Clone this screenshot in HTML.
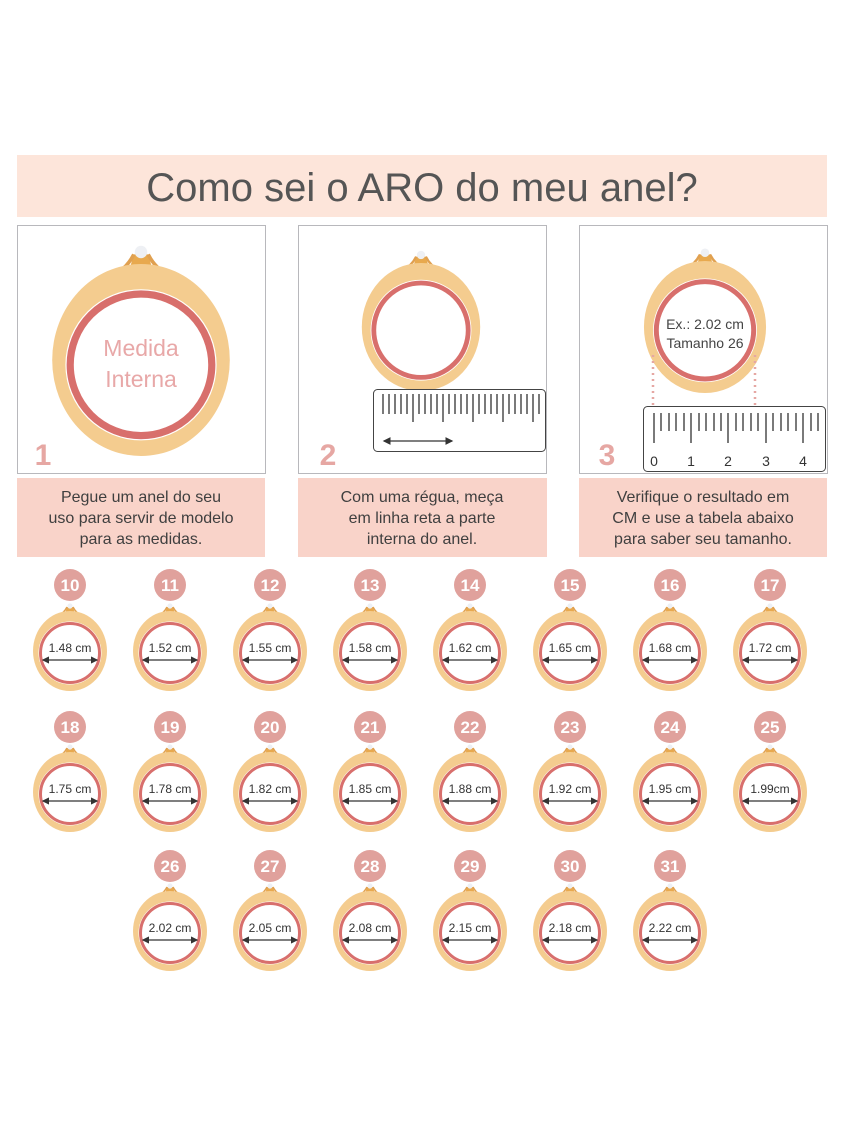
<!DOCTYPE html>
<html><head><meta charset="utf-8"><style>
body{margin:0;background:#fff;}
svg{display:block;font-family:"Liberation Sans",sans-serif;}
</style></head><body>
<svg width="850" height="1133" viewBox="0 0 850 1133" xmlns="http://www.w3.org/2000/svg">
<defs>
<g id="ring">
  <path d="M-5,-37 L-3,-44 L3,-44 L5,-37 Z" fill="#e8a94e"/>
  <path d="M-12,-35 Q-6,-38 -3,-44 M12,-35 Q6,-38 3,-44" stroke="#e0a050" stroke-width="1.5" fill="none"/>
  <circle cx="0" cy="-45" r="2.6" fill="#eef0f4"/>
  <ellipse cx="0" cy="0" rx="37" ry="40" fill="#f4cc8f"/>
  <circle cx="0" cy="2" r="31.5" fill="#fff"/>
  <circle cx="0" cy="2" r="29.5" fill="#fff" stroke="#d86f6c" stroke-width="3"/>
</g>
<marker id="ah" markerWidth="6" markerHeight="6" refX="5" refY="3" orient="auto-start-reverse"><path d="M0,0 L6,3 L0,6 Z" fill="#333"/></marker>
</defs>

<rect x="17" y="155" width="810" height="62" fill="#fde5da"/>
<text x="422" y="201" text-anchor="middle" font-size="40" fill="#555">Como sei o ARO do meu anel?</text>

<rect x="17.5" y="225.5" width="248" height="248" fill="#fff" stroke="#b8b8bc"/>
<rect x="298.5" y="225.5" width="248" height="248" fill="#fff" stroke="#b8b8bc"/>
<rect x="579.5" y="225.5" width="248" height="248" fill="#fff" stroke="#b8b8bc"/>

<!-- panel 1 -->
<g transform="translate(141,360) scale(2.4)"><use href="#ring"/></g>
<text x="141" y="356" text-anchor="middle" font-size="23" fill="#e8a8a8">Medida</text>
<text x="141" y="387" text-anchor="middle" font-size="23" fill="#e8a8a8">Interna</text>
<text x="43" y="465" text-anchor="middle" font-size="30" font-weight="bold" fill="#e6a7a3">1</text>

<!-- panel 2 -->
<g transform="translate(421,327) scale(1.6)"><use href="#ring"/></g>
<rect x="373.5" y="389.5" width="172" height="62" rx="4" fill="#fff" stroke="#444"/>
<g stroke="#333" stroke-width="1.3">
<path d="M383,394v20M389,394v20M395,394v20M401,394v20M407,394v20M413,394v28M419,394v20M425,394v20M431,394v20M437,394v20M443,394v28M449,394v20M455,394v20M461,394v20M467,394v20M473,394v28M479,394v20M485,394v20M491,394v20M497,394v20M503,394v28M509,394v20M515,394v20M521,394v20M527,394v20M533,394v28M539,394v20"/>
</g>
<line x1="384" y1="441" x2="452" y2="441" stroke="#333" stroke-width="1.3" marker-start="url(#ah)" marker-end="url(#ah)"/>
<text x="328" y="465" text-anchor="middle" font-size="30" font-weight="bold" fill="#e6a7a3">2</text>

<!-- panel 3 -->
<g transform="translate(705,327) scale(1.65)"><use href="#ring"/></g>
<text x="705" y="329" text-anchor="middle" font-size="14" fill="#444">Ex.: 2.02 cm</text>
<text x="705" y="348" text-anchor="middle" font-size="14" fill="#444">Tamanho 26</text>
<line x1="653" y1="355" x2="653" y2="405" stroke="#e6a7a3" stroke-width="2.5" stroke-dasharray="2,4"/>
<line x1="755" y1="355" x2="755" y2="405" stroke="#e6a7a3" stroke-width="2.5" stroke-dasharray="2,4"/>
<rect x="643.5" y="406.5" width="182" height="65" rx="4" fill="#fff" stroke="#444"/>
<g stroke="#333" stroke-width="1.3">
<path d="M654,413v30M661,413v18M669,413v18M676,413v18M684,413v18M691,413v30M699,413v18M706,413v18M714,413v18M721,413v18M728,413v30M736,413v18M743,413v18M751,413v18M758,413v18M766,413v30M773,413v18M781,413v18M788,413v18M796,413v18M803,413v30M811,413v18M818,413v18"/>
</g>
<g font-size="14" fill="#333" text-anchor="middle">
<text x="654" y="466">0</text><text x="691" y="466">1</text><text x="728" y="466">2</text><text x="766" y="466">3</text><text x="803" y="466">4</text>
</g>
<text x="607" y="465" text-anchor="middle" font-size="30" font-weight="bold" fill="#e6a7a3">3</text>

<!-- captions -->
<rect x="17" y="478" width="248" height="79" fill="#f9d3c9"/>
<rect x="298" y="478" width="249" height="79" fill="#f9d3c9"/>
<rect x="579" y="478" width="248" height="79" fill="#f9d3c9"/>
<g font-size="16" fill="#3f3f3f" text-anchor="middle">
<text x="141" y="502">Pegue um anel do seu</text>
<text x="141" y="523">uso para servir de modelo</text>
<text x="141" y="544">para as medidas.</text>
<text x="422" y="502">Com uma régua, meça</text>
<text x="422" y="523">em linha reta a parte</text>
<text x="422" y="544">interna do anel.</text>
<text x="703" y="502">Verifique o resultado em</text>
<text x="703" y="523">CM e use a tabela abaixo</text>
<text x="703" y="544">para saber seu tamanho.</text>
</g>

<!-- small rings -->
<g>
<g transform="translate(70,651)"><use href="#ring"/></g>
<g transform="translate(170,651)"><use href="#ring"/></g>
<g transform="translate(270,651)"><use href="#ring"/></g>
<g transform="translate(370,651)"><use href="#ring"/></g>
<g transform="translate(470,651)"><use href="#ring"/></g>
<g transform="translate(570,651)"><use href="#ring"/></g>
<g transform="translate(670,651)"><use href="#ring"/></g>
<g transform="translate(770,651)"><use href="#ring"/></g>
<g transform="translate(70,792)"><use href="#ring"/></g>
<g transform="translate(170,792)"><use href="#ring"/></g>
<g transform="translate(270,792)"><use href="#ring"/></g>
<g transform="translate(370,792)"><use href="#ring"/></g>
<g transform="translate(470,792)"><use href="#ring"/></g>
<g transform="translate(570,792)"><use href="#ring"/></g>
<g transform="translate(670,792)"><use href="#ring"/></g>
<g transform="translate(770,792)"><use href="#ring"/></g>
<g transform="translate(170,931)"><use href="#ring"/></g>
<g transform="translate(270,931)"><use href="#ring"/></g>
<g transform="translate(370,931)"><use href="#ring"/></g>
<g transform="translate(470,931)"><use href="#ring"/></g>
<g transform="translate(570,931)"><use href="#ring"/></g>
<g transform="translate(670,931)"><use href="#ring"/></g>
</g>

<g fill="#e0a19c">
<circle cx="70" cy="585" r="16"/><circle cx="170" cy="585" r="16"/><circle cx="270" cy="585" r="16"/><circle cx="370" cy="585" r="16"/><circle cx="470" cy="585" r="16"/><circle cx="570" cy="585" r="16"/><circle cx="670" cy="585" r="16"/><circle cx="770" cy="585" r="16"/>
<circle cx="70" cy="727" r="16"/><circle cx="170" cy="727" r="16"/><circle cx="270" cy="727" r="16"/><circle cx="370" cy="727" r="16"/><circle cx="470" cy="727" r="16"/><circle cx="570" cy="727" r="16"/><circle cx="670" cy="727" r="16"/><circle cx="770" cy="727" r="16"/>
<circle cx="170" cy="866" r="16"/><circle cx="270" cy="866" r="16"/><circle cx="370" cy="866" r="16"/><circle cx="470" cy="866" r="16"/><circle cx="570" cy="866" r="16"/><circle cx="670" cy="866" r="16"/>
</g>
<g fill="#fff" font-size="17" font-weight="bold" text-anchor="middle">
<text x="70" y="591">10</text><text x="170" y="591">11</text><text x="270" y="591">12</text><text x="370" y="591">13</text><text x="470" y="591">14</text><text x="570" y="591">15</text><text x="670" y="591">16</text><text x="770" y="591">17</text>
<text x="70" y="733">18</text><text x="170" y="733">19</text><text x="270" y="733">20</text><text x="370" y="733">21</text><text x="470" y="733">22</text><text x="570" y="733">23</text><text x="670" y="733">24</text><text x="770" y="733">25</text>
<text x="170" y="872">26</text><text x="270" y="872">27</text><text x="370" y="872">28</text><text x="470" y="872">29</text><text x="570" y="872">30</text><text x="670" y="872">31</text>
</g>
<g fill="#333" font-size="12" text-anchor="middle">
<text x="70" y="652">1.48 cm</text><text x="170" y="652">1.52 cm</text><text x="270" y="652">1.55 cm</text><text x="370" y="652">1.58 cm</text><text x="470" y="652">1.62 cm</text><text x="570" y="652">1.65 cm</text><text x="670" y="652">1.68 cm</text><text x="770" y="652">1.72 cm</text>
<text x="70" y="793">1.75 cm</text><text x="170" y="793">1.78 cm</text><text x="270" y="793">1.82 cm</text><text x="370" y="793">1.85 cm</text><text x="470" y="793">1.88 cm</text><text x="570" y="793">1.92 cm</text><text x="670" y="793">1.95 cm</text><text x="770" y="793">1.99cm</text>
<text x="170" y="932">2.02 cm</text><text x="270" y="932">2.05 cm</text><text x="370" y="932">2.08 cm</text><text x="470" y="932">2.15 cm</text><text x="570" y="932">2.18 cm</text><text x="670" y="932">2.22 cm</text>
</g>
<g stroke="#333" stroke-width="1.2" marker-start="url(#ah)" marker-end="url(#ah)">
<line x1="43" y1="660" x2="97" y2="660"/><line x1="143" y1="660" x2="197" y2="660"/><line x1="243" y1="660" x2="297" y2="660"/><line x1="343" y1="660" x2="397" y2="660"/><line x1="443" y1="660" x2="497" y2="660"/><line x1="543" y1="660" x2="597" y2="660"/><line x1="643" y1="660" x2="697" y2="660"/><line x1="743" y1="660" x2="797" y2="660"/>
<line x1="43" y1="801" x2="97" y2="801"/><line x1="143" y1="801" x2="197" y2="801"/><line x1="243" y1="801" x2="297" y2="801"/><line x1="343" y1="801" x2="397" y2="801"/><line x1="443" y1="801" x2="497" y2="801"/><line x1="543" y1="801" x2="597" y2="801"/><line x1="643" y1="801" x2="697" y2="801"/><line x1="743" y1="801" x2="797" y2="801"/>
<line x1="143" y1="940" x2="197" y2="940"/><line x1="243" y1="940" x2="297" y2="940"/><line x1="343" y1="940" x2="397" y2="940"/><line x1="443" y1="940" x2="497" y2="940"/><line x1="543" y1="940" x2="597" y2="940"/><line x1="643" y1="940" x2="697" y2="940"/>
</g>
</svg>
</body></html>
